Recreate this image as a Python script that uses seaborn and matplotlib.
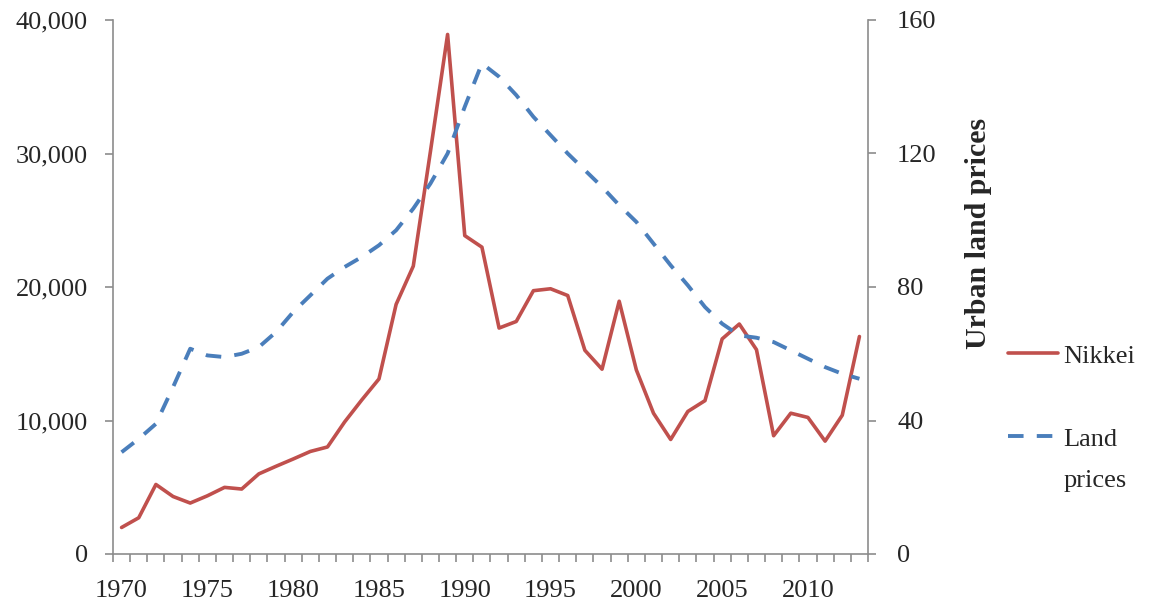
import matplotlib.pyplot as plt
import matplotlib.ticker as mticker
from matplotlib.lines import Line2D
import pandas as pd
import seaborn as sns

YEARS = list(range(1970, 2014))
NIKKEI = [1987, 2714, 5208, 4307, 3817, 4359, 4991, 4866, 6002, 6570,
          7116, 7682, 8017, 9894, 11543, 13113, 18701, 21564, 30159, 38916,
          23849, 22984, 16925, 17417, 19723, 19868, 19361, 15259, 13842, 18934,
          13786, 10543, 8579, 10677, 11489, 16111, 17226, 15308, 8860, 10546,
          10229, 8455, 10395, 16291]
LAND = [30.5, 34.5, 39, 50, 61.5, 59.5, 59, 60, 62, 66.5,
        72.5, 77.5, 82.5, 86, 89, 92.5, 97, 103.5, 111, 120,
        134, 147, 143, 137.5, 131, 125.5, 120, 115, 110, 104.5,
        99.5, 93, 86.5, 80.5, 74, 69, 65.5, 64.8, 63.5, 61,
        58.5, 56, 54, 52.5]
LEFT_TICKS = [0, 10000, 20000, 30000, 40000]
RIGHT_TICKS = [0, 40, 80, 120, 160]
YEAR_TICKS = [1970, 1975, 1980, 1985, 1990, 1995, 2000, 2005, 2010]

RED = "#C0504D"
BLUE = "#4A7EBB"
GREY = "#8C8C8C"
TEXT = "#262626"
FS = 19

sns.set_theme(style="white")
plt.rcParams["font.family"] = ["Liberation Serif", "DejaVu Serif"]

df = pd.DataFrame({"year": YEARS, "nikkei": NIKKEI, "land": LAND})

fig = plt.figure(figsize=(11.53, 6.13), dpi=100)
ax = fig.add_axes([113 / 1153, 1 - 554 / 613, (868 - 113) / 1153, (554 - 20) / 613])
ax2 = ax.twinx()

sns.lineplot(data=df, x="year", y="nikkei", ax=ax, color=RED, lw=2.6, legend=False)
sns.lineplot(data=df, x="year", y="land", ax=ax2, color=BLUE, lw=2.8, legend=False)
ax2.lines[0].set_dashes((4.0, 3.4))

ax.set_xlim(1969.5, 2013.5)
ax.set_ylim(0, 40000)
ax2.set_ylim(0, 160)
ax.set_yticks(LEFT_TICKS)
ax.yaxis.set_major_formatter(mticker.FuncFormatter(lambda v, _: f"{int(v):,}"))
ax2.set_yticks(RIGHT_TICKS)
ax.set_xticks(YEAR_TICKS)
ax.set_xticklabels([str(y) for y in YEAR_TICKS])
ax.set_xticks([y - 0.5 for y in YEARS] + [YEARS[-1] + 0.5], minor=True)

ax.set_xlabel("")
ax.set_ylabel("")
ax2.set_ylabel("Urban land prices", fontweight="bold", color=TEXT, fontsize=21.5)
ax2.yaxis.set_label_coords((965 - 113) / 755, (554 - 233) / 534)

for a in (ax, ax2):
    for side in ("left", "right", "bottom"):
        a.spines[side].set_color(GREY)
        a.spines[side].set_linewidth(1.2)
    a.spines["top"].set_visible(False)
    a.grid(False)
ax.spines["right"].set_visible(False)
ax2.spines["left"].set_visible(False)
ax2.spines["bottom"].set_visible(False)

ax.tick_params(axis="y", which="major", length=6, width=1.2, color=GREY, pad=12,
               labelcolor=TEXT, labelsize=FS, left=True)
ax2.tick_params(axis="y", which="major", length=6, width=1.2, color=GREY, pad=15,
                labelcolor=TEXT, labelsize=FS, right=True)
ax.tick_params(axis="x", which="major", length=0, pad=19, labelcolor=TEXT, labelsize=FS, bottom=True)
ax.tick_params(axis="x", which="minor", length=6, width=1.2, color=GREY, bottom=True)

blank = Line2D([], [], color="none")
handles = [ax.lines[0], blank, ax2.lines[0], blank]
fig.legend(handles=handles, labels=["Nikkei", " ", "Land", "prices"], loc="upper left",
           bbox_to_anchor=(995 / 1153, 1 - 331 / 613), frameon=False,
           handlelength=1.9, handletextpad=0.2, labelspacing=0.68, fontsize=FS,
           labelcolor=TEXT, borderpad=0)

fig.savefig("out.png", dpi=100)
